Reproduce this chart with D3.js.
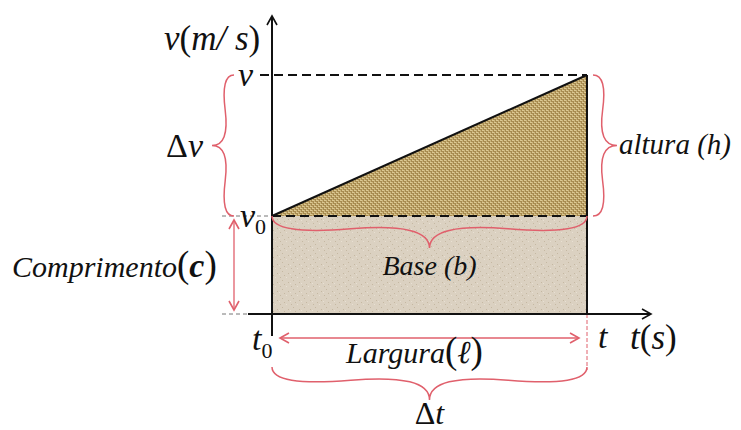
<!DOCTYPE html>
<html><head><meta charset="utf-8">
<script src="https://cdn.jsdelivr.net/npm/d3@7"></script>
<style>
html,body{margin:0;padding:0;background:#fff;}
svg{display:block;}
</style></head>
<body>
<svg id="c" width="741" height="430"></svg>
<script>
// ---- data ----
const times = [0, 1];            // t0, t
const velocities = [0.41, 1];    // v0, v
const timeLabels = ["t", "t"];   // t0 (subscript 0), t
const velLabels = ["v", "v"];    // v0 (subscript 0), v
const axisLabels = ["v(m/ s)", "t(s)"];
const annotations = ["Δv", "altura (h)", "Base (b)", "Comprimento(c)", "Largura(ℓ)", "Δt"];

const FONT = "Liberation Serif";
const svg = d3.select("#c");
const x = d3.scaleLinear().domain([0, 1]).range([272, 587]);
const y = d3.scaleLinear().domain([0, 1]).range([314, 75]);
const red = "#e0606c";

// ---- patterns ----
const defs = svg.append("defs");
const burlap = defs.append("pattern").attr("id","burlap").attr("patternUnits","userSpaceOnUse")
  .attr("width",4).attr("height",4);
burlap.append("rect").attr("width",4).attr("height",4).attr("fill","#a88b50");
burlap.append("rect").attr("x",0).attr("y",0).attr("width",2).attr("height",1).attr("fill","#dcc892");
burlap.append("rect").attr("x",2).attr("y",2).attr("width",2).attr("height",1).attr("fill","#dcc892");
burlap.append("rect").attr("x",2).attr("y",0).attr("width",1).attr("height",2).attr("fill","#c9b37a");
burlap.append("rect").attr("x",0).attr("y",2).attr("width",1).attr("height",2).attr("fill","#c9b37a");

const paper = defs.append("pattern").attr("id","paper").attr("patternUnits","userSpaceOnUse")
  .attr("width",11).attr("height",9);
paper.append("rect").attr("width",11).attr("height",9).attr("fill","#dbd1c1");
[[2,3],[7,1],[5,7],[9,5]].forEach(p=>paper.append("rect").attr("x",p[0]).attr("y",p[1])
  .attr("width",1).attr("height",1).attr("fill","#c5b8a2"));
[[4,4],[0,7]].forEach(p=>paper.append("rect").attr("x",p[0]).attr("y",p[1])
  .attr("width",1).attr("height",1).attr("fill","#e8e0d3"));

function marker(id, color){
  defs.append("marker").attr("id",id).attr("viewBox","-10 -6 12 12").attr("refX",0).attr("refY",0)
    .attr("markerWidth",12).attr("markerHeight",12).attr("markerUnits","userSpaceOnUse").attr("orient","auto-start-reverse")
    .append("path").attr("d","M-9,-5 L0,0 L-9,5").attr("fill","none").attr("stroke",color).attr("stroke-width",1.6);
}
marker("ablack","#111");
marker("ared",red);

// ---- areas ----
const rectArea = d3.area().x(d=>x(d.t)).y0(y(0)).y1(d=>y(velocities[0]));
svg.append("path").datum(times.map(t=>({t}))).attr("d",rectArea).attr("fill","url(#paper)");
const triArea = d3.area().x(d=>x(d.t)).y0(y(velocities[0])).y1(d=>y(d.v));
svg.append("path").datum(times.map((t,i)=>({t,v:velocities[i]}))).attr("d",triArea).attr("fill","url(#burlap)");

// ---- dashed guides ----
svg.append("line").attr("x1",x(0)-12).attr("x2",x(times[1])).attr("y1",y(velocities[1])).attr("y2",y(velocities[1]))
  .attr("stroke","#111").attr("stroke-width",2).attr("stroke-dasharray","9,5");
svg.append("line").attr("x1",x(0)).attr("x2",x(times[1])).attr("y1",y(velocities[0])).attr("y2",y(velocities[0]))
  .attr("stroke","#111").attr("stroke-width",2).attr("stroke-dasharray","9,5");
svg.append("line").attr("x1",x(0)-50).attr("x2",x(0)-4).attr("y1",y(velocities[0])).attr("y2",y(velocities[0]))
  .attr("stroke","#777").attr("stroke-width",1).attr("stroke-dasharray","4,3");
svg.append("line").attr("x1",x(0)-50).attr("x2",x(0)-24).attr("y1",y(0)).attr("y2",y(0))
  .attr("stroke","#777").attr("stroke-width",1).attr("stroke-dasharray","4,3");
svg.append("line").attr("x1",x(times[1])).attr("x2",x(times[1])).attr("y1",y(0)).attr("y2",y(0)+56)
  .attr("stroke",red).attr("stroke-width",1).attr("stroke-dasharray","4,2");

// ---- line & right edge ----
svg.append("path").attr("d",d3.line().x(d=>x(d.t)).y(d=>y(d.v))(times.map((t,i)=>({t,v:velocities[i]}))))
  .attr("stroke","#111").attr("stroke-width",2).attr("fill","none");
svg.append("line").attr("x1",x(times[1])).attr("x2",x(times[1])).attr("y1",y(velocities[1])).attr("y2",y(0))
  .attr("stroke","#111").attr("stroke-width",2);

// ---- axes ----
svg.append("line").attr("x1",x(0)).attr("x2",x(0)).attr("y1",y(0)+22).attr("y2",16)
  .attr("stroke","#111").attr("stroke-width",2).attr("marker-end","url(#ablack)");
svg.append("line").attr("x1",x(0)-24).attr("x2",651).attr("y1",y(0)).attr("y2",y(0))
  .attr("stroke","#111").attr("stroke-width",2).attr("marker-end","url(#ablack)");

// ---- braces ----
function brace(x1,y1,x2,y2,w,q){
  const len=Math.hypot(x1-x2,y1-y2), dx=(x1-x2)/len, dy=(y1-y2)/len;
  const qx1=x1+q*w*dy, qy1=y1-q*w*dx;
  const qx2=(x1-.25*len*dx)+(1-q)*w*dy, qy2=(y1-.25*len*dy)-(1-q)*w*dx;
  const tx1=(x1-.5*len*dx)+w*dy, ty1=(y1-.5*len*dy)-w*dx;
  const qx3=x2+q*w*dy, qy3=y2-q*w*dx;
  const qx4=(x1-.75*len*dx)+(1-q)*w*dy, qy4=(y1-.75*len*dy)-(1-q)*w*dx;
  return `M${x1},${y1}Q${qx1},${qy1} ${qx2},${qy2}T${tx1},${ty1}M${x2},${y2}Q${qx3},${qy3} ${qx4},${qy4}T${tx1},${ty1}`;
}
function addBrace(d){svg.append("path").attr("d",d).attr("stroke",red).attr("stroke-width",1.5).attr("fill","none");}
addBrace(brace(x(0),y(velocities[0]),x(times[1]),y(velocities[0]),32,0.6));
addBrace(brace(x(0),y(0)+53,x(times[1]),y(0)+53,33,0.6));
addBrace(brace(x(times[1])+6,y(velocities[0]),x(times[1])+6,y(velocities[1]),24,0.6));
addBrace(brace(x(0)-38,y(velocities[1]),x(0)-38,y(velocities[0]),22,0.6));

svg.append("line").attr("x1",x(0)-38).attr("x2",x(0)-38).attr("y1",y(velocities[0])+4).attr("y2",y(0)-4)
  .attr("stroke",red).attr("stroke-width",1.3).attr("marker-start","url(#ared)").attr("marker-end","url(#ared)");
svg.append("line").attr("x1",x(0)+8).attr("x2",x(times[1])-8).attr("y1",y(0)+24).attr("y2",y(0)+24)
  .attr("stroke",red).attr("stroke-width",1.3).attr("marker-start","url(#ared)").attr("marker-end","url(#ared)");

// ---- text: chained separate <text> runs (each with its own font-style) ----
// part: [string, size, italic, dy, bold]
function chain(x0, y0, parts, anchor){
  const g = svg.append("g");
  let cx = 0;
  parts.forEach(p=>{
    const [s,size,ital,dy,bold] = p;
    const t = g.append("text").attr("x",cx).attr("y",dy||0)
      .attr("font-family",FONT).attr("font-size",size)
      .attr("font-style",ital?"italic":"normal").attr("font-weight",bold?"bold":"normal")
      .attr("fill","#111").text(s);
    cx += t.node().getComputedTextLength();
  });
  const off = anchor==="middle" ? -cx/2 : 0;
  g.attr("transform",`translate(${x0+off},${y0})`);
  return g;
}

chain(164,50,[["v",35,1],["(",35,0],["m/ s",35,1],[")",35,0]]);
chain(238,86,[[velLabels[1],34,1]]);
chain(240,227,[[velLabels[0],34,1],["0",22,0,7]]);
chain(166,157,[["Δ",34,0],["v",34,1]]);
chain(12,277,[["Comprimento",30,1],["(",37,0],["c",34,1,0,1],[")",37,0]]);
chain(x(0.5),275,[["Base (b)",28,1]],"middle");
chain(619,154,[["altura (h)",29,1]]);
chain(252,350,[[timeLabels[0],34,1],["0",22,0,8]]);
chain(346,363,[["Largura",30,1],["(",37,0],["ℓ",32,1],[")",37,0]]);
chain(598,348,[[timeLabels[1],34,1]]);
chain(630,349,[["t",35,1],["(",35,0],["s",35,1],[")",35,0]]);
chain(x(0.5),424,[["Δ",32,0],["t",32,1]],"middle");
</script>
</body></html>
